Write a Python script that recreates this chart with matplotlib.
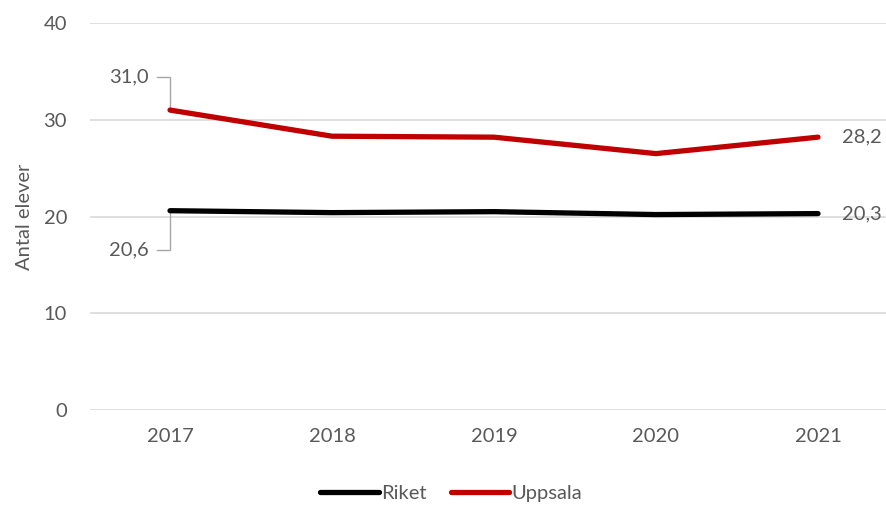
import matplotlib
matplotlib.use("Agg")
import matplotlib.pyplot as plt
from matplotlib.lines import Line2D

# data
years = ["2017", "2018", "2019", "2020", "2021"]
riket = [20.6, 20.4, 20.5, 20.2, 20.3]
uppsala = [31.0, 28.3, 28.2, 26.5, 28.2]
yticks = [0, 10, 20, 30, 40]

plt.rcParams['font.family'] = ['Lato', 'DejaVu Sans']
txt = '#595959'
grid = '#d9d9d9'
fs = 14.5

W, H = 887, 505
fig = plt.figure(figsize=(W / 100, H / 100), dpi=100)
ax = fig.add_axes([90 / W, 1 - 410 / H, (887 - 90) / W, (410 - 23) / H])

x = list(range(len(years)))
ax.plot(x, riket, color='black', lw=3.8, solid_capstyle='round', zorder=3)
ax.plot(x, uppsala, color='#c00000', lw=3.8, solid_capstyle='round', zorder=3)

ax.set_xlim(-0.494, 4.426)
ax.set_ylim(0, 40)
ax.set_yticks(yticks)
ax.set_xticks(x)
ax.set_xticklabels(years)
for v in yticks:
    ax.axhline(v, color=grid, lw=1.2, zorder=1)
for s in ax.spines.values():
    s.set_visible(False)
ax.tick_params(axis='both', length=0, colors=txt, labelsize=fs)
ax.tick_params(axis='x', pad=13)
ax.tick_params(axis='y', pad=16.5)
ax.set_ylabel('Antal elever', color=txt, fontsize=fs)
ax.yaxis.set_label_coords(-0.072, 0.5)

# data labels with leader lines for first point
lead = '#a6a6a6'
ax.plot([-0.08, 0, 0], [34.4, 34.4, uppsala[0]], color=lead, lw=1, zorder=2)
ax.text(-0.13, 34.4, f"{uppsala[0]:.1f}".replace('.', ','), ha='right', va='center',
        color=txt, fontsize=fs)
ax.plot([-0.08, 0, 0], [16.5, 16.5, riket[0]], color=lead, lw=1, zorder=2)
ax.text(-0.13, 16.5, f"{riket[0]:.1f}".replace('.', ','), ha='right', va='center',
        color=txt, fontsize=fs)

# last point labels
ax.text(4.15, uppsala[-1], f"{uppsala[-1]:.1f}".replace('.', ','), ha='left', va='center',
        color=txt, fontsize=fs)
ax.text(4.15, riket[-1], f"{riket[-1]:.1f}".replace('.', ','), ha='left', va='center',
        color=txt, fontsize=fs)

handles = [Line2D([], [], color='black', lw=3.8, solid_capstyle='round'),
           Line2D([], [], color='#c00000', lw=3.8, solid_capstyle='round')]
leg = fig.legend(handles, ['Riket', 'Uppsala'], loc='center', bbox_to_anchor=(451 / W, 1 - 493 / H),
                 ncol=2, frameon=False, fontsize=fs, handlelength=2.9, handletextpad=0.1,
                 columnspacing=1.2)
for t in leg.get_texts():
    t.set_color(txt)

fig.savefig('out.png', dpi=100)
